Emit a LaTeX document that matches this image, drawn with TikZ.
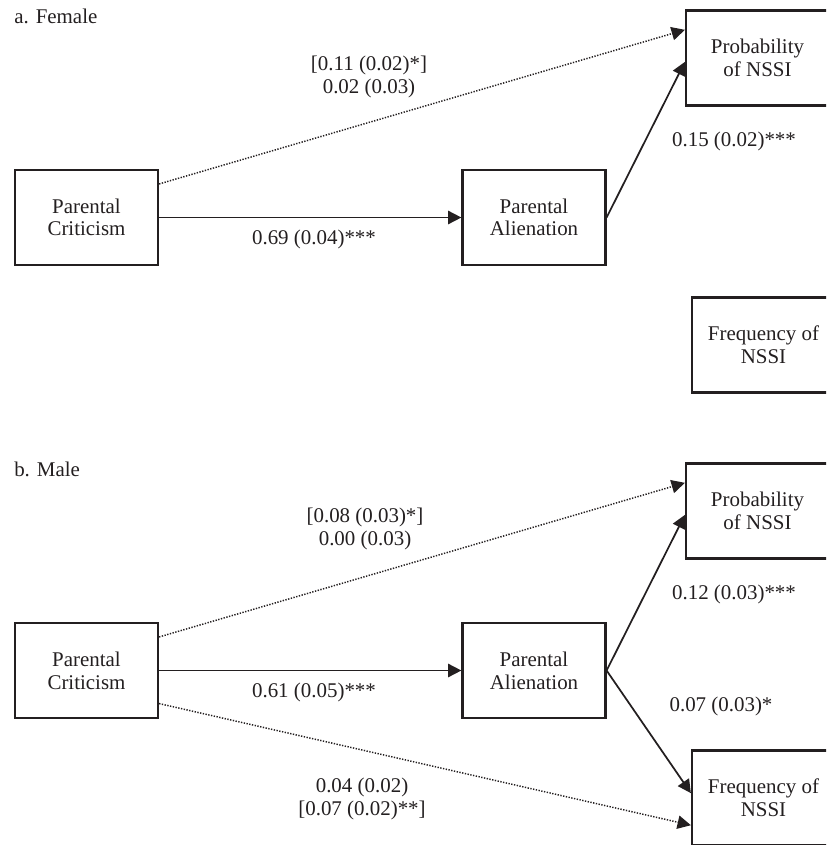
\documentclass[tikz,border=0pt]{standalone}
\usepackage{fontspec}
\setmainfont{Liberation Serif}
\usetikzlibrary{arrows.meta,calc}
\definecolor{ink}{HTML}{231F20}
\begin{document}
\begin{tikzpicture}[x=0.75pt,y=-0.75pt,
  txt/.style={text=ink, font=\fontsize{15.7pt}{17pt}\selectfont},
  box/.style={txt, draw=ink, line width=1.9pt, minimum width=107pt, minimum height=71pt, inner sep=0pt, align=center},
  lab/.style={txt, inner sep=0pt, align=center},
  solidarr/.style={draw=ink, line width=1.3pt, -{Triangle[length=10pt,width=10pt]}},
  dotarr/.style={draw=ink, line width=1.1pt, dash pattern=on 1pt off 1.1pt, -{Triangle[length=10pt,width=10pt]}}]
\useasboundingbox (0,0) rectangle (826,845);
\clip (0,0) rectangle (826,845);

% ---------- panel a ----------
\node[lab, anchor=base west] (titA) at (14,23.5) {a. Female};
\node[box] (critA) at (86.5,217.5) {Parental\\Criticism};
\node[box] (alienA) at (534,217.5) {Parental\\Alienation};
\node[box] (probA) at (757.5,58) {Probability\\of NSSI};
\node[box] (freqA) at (763.5,345) {Frequency of\\NSSI};

\draw[dotarr] ($(critA.north east)!0.155!(critA.south east)$) -- ($(probA.north west)!0.21!(probA.south west)$);
\draw[solidarr] (critA.east) -- (alienA.west);
\draw[solidarr] (alienA.east) -- ($(probA.north west)!0.54!(probA.south west)$);

\node[lab] (l1A) at (369,77) {{[}0.11 (0.02)*{]}\\0.02 (0.03)};
\node[lab] (l2A) at (314,239) {0.69 (0.04)***};
\node[lab] (l3A) at (734,141) {0.15 (0.02)***};

% ---------- panel b ----------
\node[lab, anchor=base west] (titB) at (14,476.5) {b. Male};
\node[box] (critB) at (86.5,670.5) {Parental\\Criticism};
\node[box] (alienB) at (534,670.5) {Parental\\Alienation};
\node[box] (probB) at (757.5,511) {Probability\\of NSSI};
\node[box] (freqB) at (763.5,798) {Frequency of\\NSSI};

\draw[dotarr] ($(critB.north east)!0.155!(critB.south east)$) -- ($(probB.north west)!0.21!(probB.south west)$);
\draw[dotarr] ($(critB.north east)!0.84!(critB.south east)$) -- ($(freqB.north west)!0.78!(freqB.south west)$);
\draw[solidarr] (critB.east) -- (alienB.west);
\draw[solidarr] (alienB.east) -- ($(probB.north west)!0.54!(probB.south west)$);
\draw[solidarr] (alienB.east) -- ($(freqB.north west)!0.45!(freqB.south west)$);

\node[lab] (l1B) at (365,529) {{[}0.08 (0.03)*{]}\\0.00 (0.03)};
\node[lab] (l2B) at (314,692) {0.61 (0.05)***};
\node[lab] (l3B) at (734,594) {0.12 (0.03)***};
\node[lab] (l4B) at (721,706) {0.07 (0.03)*};
\node[lab] (l5B) at (362,799) {0.04 (0.02)\\{[}0.07 (0.02)**{]}};
\end{tikzpicture}
\end{document}
